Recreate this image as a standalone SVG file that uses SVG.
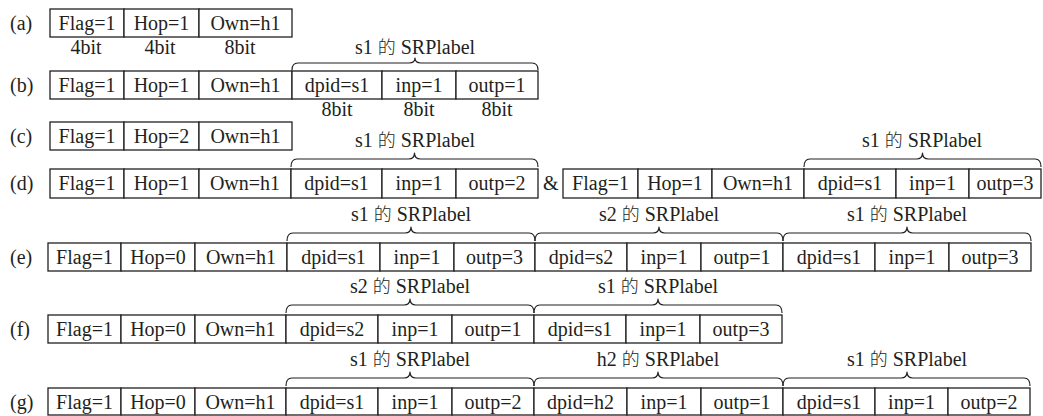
<svg xmlns="http://www.w3.org/2000/svg" width="1043" height="416" viewBox="0 0 1043 416">
<style>
.bg{fill:#ffffff}
.c{fill:#ffffff;stroke:#231f20;stroke-width:1.3}
.t{font-family:"Liberation Serif","DejaVu Serif",serif;font-size:20px;fill:#231f20;text-anchor:middle}
.l{font-family:"Liberation Serif","DejaVu Serif",serif;font-size:20px;fill:#231f20}
.k{font-family:"Noto Sans CJK SC","Noto Sans CJK JP",sans-serif;font-size:18px;font-weight:300}
.br{fill:none;stroke:#231f20;stroke-width:1.2;stroke-linejoin:round}
</style>
<rect class="bg" x="0" y="0" width="1043" height="416"/>

<!-- (a) -->
<g id="row-a">
<text class="l" x="10" y="30">(a)</text>
<g id="a-flag"><rect class="c" x="50" y="9" width="74" height="28"/><text class="t" x="87" y="30">Flag=1</text></g>
<g id="a-hop"><rect class="c" x="124" y="9" width="75" height="28"/><text class="t" x="161.5" y="30">Hop=1</text></g>
<g id="a-own"><rect class="c" x="199" y="9" width="93" height="28"/><text class="t" x="245.5" y="30">Own=h1</text></g>
<text class="t" x="86" y="54">4bit</text>
<text class="t" x="160" y="54">4bit</text>
<text class="t" x="240" y="54">8bit</text>
</g>

<!-- (b) -->
<g id="row-b">
<text class="l" x="10" y="92">(b)</text>
<g id="b-flag"><rect class="c" x="50" y="71" width="74" height="28"/><text class="t" x="87" y="92">Flag=1</text></g>
<g id="b-hop"><rect class="c" x="124" y="71" width="75" height="28"/><text class="t" x="161.5" y="92">Hop=1</text></g>
<g id="b-own"><rect class="c" x="199" y="71" width="93" height="28"/><text class="t" x="245.5" y="92">Own=h1</text></g>
<g id="b-dpid"><rect class="c" x="292" y="71" width="90" height="28"/><text class="t" x="337" y="92">dpid=s1</text></g>
<g id="b-inp"><rect class="c" x="382" y="71" width="74" height="28"/><text class="t" x="419" y="92">inp=1</text></g>
<g id="b-outp"><rect class="c" x="456" y="71" width="82" height="28"/><text class="t" x="497" y="92">outp=1</text></g>
<text class="t" x="337" y="116">8bit</text>
<text class="t" x="419" y="116">8bit</text>
<text class="t" x="497" y="116">8bit</text>
<text class="t" x="415" y="54">s1 <tspan class="k">的</tspan> SRPlabel</text>
</g>

<!-- (c) -->
<g id="row-c">
<text class="l" x="10" y="143">(c)</text>
<g id="c-flag"><rect class="c" x="50" y="122" width="74" height="28"/><text class="t" x="87" y="143">Flag=1</text></g>
<g id="c-hop"><rect class="c" x="124" y="122" width="75" height="28"/><text class="t" x="161.5" y="143">Hop=2</text></g>
<g id="c-own"><rect class="c" x="199" y="122" width="93" height="28"/><text class="t" x="245.5" y="143">Own=h1</text></g>
</g>

<!-- (d) -->
<g id="row-d">
<text class="l" x="10" y="190">(d)</text>
<g id="d1-flag"><rect class="c" x="50" y="169" width="74" height="29"/><text class="t" x="87" y="190">Flag=1</text></g>
<g id="d1-hop"><rect class="c" x="124" y="169" width="75" height="29"/><text class="t" x="161.5" y="190">Hop=1</text></g>
<g id="d1-own"><rect class="c" x="199" y="169" width="92" height="29"/><text class="t" x="245" y="190">Own=h1</text></g>
<g id="d1-dpid"><rect class="c" x="291" y="169" width="91" height="29"/><text class="t" x="336.5" y="190">dpid=s1</text></g>
<g id="d1-inp"><rect class="c" x="382" y="169" width="74" height="29"/><text class="t" x="419" y="190">inp=1</text></g>
<g id="d1-outp"><rect class="c" x="456" y="169" width="82" height="29"/><text class="t" x="497" y="190">outp=2</text></g>
<text class="l" x="543" y="190">&amp;</text>
<g id="d2-flag"><rect class="c" x="563" y="169" width="75" height="29"/><text class="t" x="600.5" y="190">Flag=1</text></g>
<g id="d2-hop"><rect class="c" x="638" y="169" width="74" height="29"/><text class="t" x="675" y="190">Hop=1</text></g>
<g id="d2-own"><rect class="c" x="712" y="169" width="92" height="29"/><text class="t" x="758" y="190">Own=h1</text></g>
<g id="d2-dpid"><rect class="c" x="804" y="169" width="92" height="29"/><text class="t" x="850" y="190">dpid=s1</text></g>
<g id="d2-inp"><rect class="c" x="896" y="169" width="73" height="29"/><text class="t" x="932.5" y="190">inp=1</text></g>
<g id="d2-outp"><rect class="c" x="969" y="169" width="72" height="29"/><text class="t" x="1005" y="190">outp=3</text></g>
<text class="t" x="415" y="147">s1 <tspan class="k">的</tspan> SRPlabel</text>
<text class="t" x="922" y="147">s1 <tspan class="k">的</tspan> SRPlabel</text>
</g>

<!-- (e) -->
<g id="row-e">
<text class="l" x="10" y="264">(e)</text>
<g id="e-flag"><rect class="c" x="48" y="243" width="73" height="28"/><text class="t" x="84.5" y="264">Flag=1</text></g>
<g id="e-hop"><rect class="c" x="121" y="243" width="74" height="28"/><text class="t" x="158" y="264">Hop=0</text></g>
<g id="e-own"><rect class="c" x="195" y="243" width="92" height="28"/><text class="t" x="241" y="264">Own=h1</text></g>
<g id="e-dpid1"><rect class="c" x="287" y="243" width="93" height="28"/><text class="t" x="333.5" y="264">dpid=s1</text></g>
<g id="e-inp1"><rect class="c" x="380" y="243" width="74" height="28"/><text class="t" x="417" y="264">inp=1</text></g>
<g id="e-outp1"><rect class="c" x="454" y="243" width="81" height="28"/><text class="t" x="494.5" y="264">outp=3</text></g>
<g id="e-dpid2"><rect class="c" x="535" y="243" width="92" height="28"/><text class="t" x="581" y="264">dpid=s2</text></g>
<g id="e-inp2"><rect class="c" x="627" y="243" width="74" height="28"/><text class="t" x="664" y="264">inp=1</text></g>
<g id="e-outp2"><rect class="c" x="701" y="243" width="82" height="28"/><text class="t" x="742" y="264">outp=1</text></g>
<g id="e-dpid3"><rect class="c" x="783" y="243" width="92" height="28"/><text class="t" x="829" y="264">dpid=s1</text></g>
<g id="e-inp3"><rect class="c" x="875" y="243" width="74" height="28"/><text class="t" x="912" y="264">inp=1</text></g>
<g id="e-outp3"><rect class="c" x="949" y="243" width="82" height="28"/><text class="t" x="990" y="264">outp=3</text></g>
<text class="t" x="411" y="221">s1 <tspan class="k">的</tspan> SRPlabel</text>
<text class="t" x="659" y="221">s2 <tspan class="k">的</tspan> SRPlabel</text>
<text class="t" x="907" y="221">s1 <tspan class="k">的</tspan> SRPlabel</text>
</g>

<!-- (f) -->
<g id="row-f">
<text class="l" x="10" y="336">(f)</text>
<g id="f-flag"><rect class="c" x="48" y="315" width="73" height="28"/><text class="t" x="84.5" y="336">Flag=1</text></g>
<g id="f-hop"><rect class="c" x="121" y="315" width="74" height="28"/><text class="t" x="158" y="336">Hop=0</text></g>
<g id="f-own"><rect class="c" x="195" y="315" width="91" height="28"/><text class="t" x="240.5" y="336">Own=h1</text></g>
<g id="f-dpid1"><rect class="c" x="286" y="315" width="92" height="28"/><text class="t" x="332" y="336">dpid=s2</text></g>
<g id="f-inp1"><rect class="c" x="378" y="315" width="74" height="28"/><text class="t" x="415" y="336">inp=1</text></g>
<g id="f-outp1"><rect class="c" x="452" y="315" width="82" height="28"/><text class="t" x="493" y="336">outp=1</text></g>
<g id="f-dpid2"><rect class="c" x="534" y="315" width="92" height="28"/><text class="t" x="580" y="336">dpid=s1</text></g>
<g id="f-inp2"><rect class="c" x="626" y="315" width="74" height="28"/><text class="t" x="663" y="336">inp=1</text></g>
<g id="f-outp2"><rect class="c" x="700" y="315" width="82" height="28"/><text class="t" x="741" y="336">outp=3</text></g>
<text class="t" x="410" y="293">s2 <tspan class="k">的</tspan> SRPlabel</text>
<text class="t" x="658" y="293">s1 <tspan class="k">的</tspan> SRPlabel</text>
</g>

<!-- (g) -->
<g id="row-g">
<text class="l" x="10" y="409">(g)</text>
<g id="g-flag"><rect class="c" x="48" y="388" width="73" height="27"/><text class="t" x="84.5" y="409">Flag=1</text></g>
<g id="g-hop"><rect class="c" x="121" y="388" width="74" height="27"/><text class="t" x="158" y="409">Hop=0</text></g>
<g id="g-own"><rect class="c" x="195" y="388" width="91" height="27"/><text class="t" x="240.5" y="409">Own=h1</text></g>
<g id="g-dpid1"><rect class="c" x="286" y="388" width="92" height="27"/><text class="t" x="332" y="409">dpid=s1</text></g>
<g id="g-inp1"><rect class="c" x="378" y="388" width="74" height="27"/><text class="t" x="415" y="409">inp=1</text></g>
<g id="g-outp1"><rect class="c" x="452" y="388" width="82" height="27"/><text class="t" x="493" y="409">outp=2</text></g>
<g id="g-dpid2"><rect class="c" x="534" y="388" width="93" height="27"/><text class="t" x="580.5" y="409">dpid=h2</text></g>
<g id="g-inp2"><rect class="c" x="627" y="388" width="74" height="27"/><text class="t" x="664" y="409">inp=1</text></g>
<g id="g-outp2"><rect class="c" x="701" y="388" width="82" height="27"/><text class="t" x="742" y="409">outp=1</text></g>
<g id="g-dpid3"><rect class="c" x="783" y="388" width="92" height="27"/><text class="t" x="829" y="409">dpid=s1</text></g>
<g id="g-inp3"><rect class="c" x="875" y="388" width="73" height="27"/><text class="t" x="911.5" y="409">inp=1</text></g>
<g id="g-outp3"><rect class="c" x="948" y="388" width="82" height="27"/><text class="t" x="989" y="409">outp=2</text></g>
<text class="t" x="410" y="366">s1 <tspan class="k">的</tspan> SRPlabel</text>
<text class="t" x="658" y="366">h2 <tspan class="k">的</tspan> SRPlabel</text>
<text class="t" x="907" y="366">s1 <tspan class="k">的</tspan> SRPlabel</text>
</g>

<!-- braces -->
<g id="braces">
<path class="br" d="M292,70 Q292,63 298,63 H409 Q415,63 415,58 Q415,63 421,63 H532 Q538,63 538,70"/>
<path class="br" d="M291,167 Q291,159 297,159 H408.5 Q414.5,159 414.5,153 Q414.5,159 420.5,159 H532 Q538,159 538,167"/>
<path class="br" d="M804,167 Q804,159 810,159 H916.5 Q922.5,159 922.5,153 Q922.5,159 928.5,159 H1035 Q1041,159 1041,167"/>
<path class="br" d="M287,241 Q287,233 293,233 H405 Q411,233 411,227 Q411,233 417,233 H529 Q535,233 535,241"/>
<path class="br" d="M535,241 Q535,233 541,233 H653 Q659,233 659,227 Q659,233 665,233 H777 Q783,233 783,241"/>
<path class="br" d="M783,241 Q783,233 789,233 H901 Q907,233 907,227 Q907,233 913,233 H1025 Q1031,233 1031,241"/>
<path class="br" d="M286,313 Q286,305 292,305 H404 Q410,305 410,299 Q410,305 416,305 H528 Q534,305 534,313"/>
<path class="br" d="M534,313 Q534,305 540,305 H652 Q658,305 658,299 Q658,305 664,305 H776 Q782,305 782,313"/>
<path class="br" d="M286,386 Q286,378 292,378 H404 Q410,378 410,372 Q410,378 416,378 H528 Q534,378 534,386"/>
<path class="br" d="M534,386 Q534,378 540,378 H652 Q658,378 658,372 Q658,378 664,378 H777 Q783,378 783,386"/>
<path class="br" d="M783,386 Q783,378 789,378 H901 Q907,378 907,372 Q907,378 913,378 H1024 Q1030,378 1030,386"/>
</g>
</svg>
